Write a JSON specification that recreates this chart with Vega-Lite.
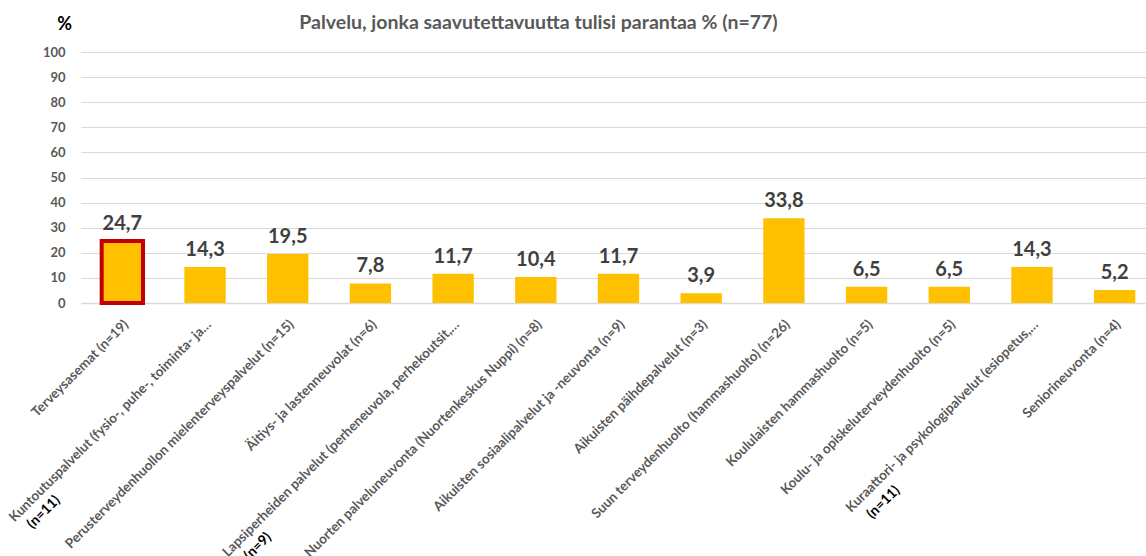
{
  "$schema": "https://vega.github.io/schema/vega-lite/v6.json",
  "width": 1065,
  "height": 251,
  "autosize": "none",
  "padding": {"left": 81, "top": 52, "right": 0, "bottom": 253},
  "background": "white",
  "title": {
    "text": "Palvelu, jonka saavutettavuutta tulisi parantaa % (n=77)",
    "anchor": "middle",
    "dx": -75,
    "dy": 22,
    "font": "Lato",
    "fontSize": 19.5,
    "fontWeight": "bold",
    "color": "#595959"
  },
  "datasets": {
    "palvelut": [
      {"palvelu": "Terveysasemat (n=19)", "osuus": 24.7},
      {"palvelu": "Kuntoutuspalvelut (fysio-, puhe-, toiminta- ja…", "osuus": 14.3},
      {"palvelu": "Perusterveydenhuollon mielenterveyspalvelut (n=15)", "osuus": 19.5},
      {"palvelu": "Äitiys- ja lastenneuvolat (n=6)", "osuus": 7.8},
      {"palvelu": "Lapsiperheiden palvelut (perheneuvola, perhekoutsit,…", "osuus": 11.7},
      {"palvelu": "Nuorten palveluneuvonta (Nuortenkeskus Nuppi) (n=8)", "osuus": 10.4},
      {"palvelu": "Aikuisten sosiaalipalvelut ja -neuvonta (n=9)", "osuus": 11.7},
      {"palvelu": "Aikuisten päihdepalvelut (n=3)", "osuus": 3.9},
      {"palvelu": "Suun terveydenhuolto (hammashuolto) (n=26)", "osuus": 33.8},
      {"palvelu": "Koululaisten hammashuolto (n=5)", "osuus": 6.5},
      {"palvelu": "Koulu- ja opiskeluterveydenhuolto (n=5)", "osuus": 6.5},
      {"palvelu": "Kuraattori- ja psykologipalvelut (esiopetus,…", "osuus": 14.3},
      {"palvelu": "Seniorineuvonta (n=4)", "osuus": 5.2}
    ],
    "vastaajat": [
      {"palvelu": "Kuntoutuspalvelut (fysio-, puhe-, toiminta- ja…", "n": "(n=11)"},
      {"palvelu": "Lapsiperheiden palvelut (perheneuvola, perhekoutsit,…", "n": "(n=9)"},
      {"palvelu": "Kuraattori- ja psykologipalvelut (esiopetus,…", "n": "(n=11)"}
    ]
  },
  "data": {"name": "palvelut"},
  "encoding": {
    "x": {
      "field": "palvelu",
      "type": "nominal",
      "sort": null,
      "scale": {"range": [0, 1075], "paddingInner": 0.5, "paddingOuter": 0.25},
      "axis": {
        "title": null,
        "labelAngle": -45,
        "labelAlign": "right",
        "labelBaseline": "middle",
        "labelPadding": 19,
        "labelOffset": 4,
        "labelLimit": 400,
        "labelFont": "Lato",
        "labelFontSize": 13.5,
        "labelFontWeight": "bold",
        "labelColor": "#595959",
        "ticks": false,
        "domainColor": "#d9d9d9",
        "domainWidth": 1.5
      }
    }
  },
  "layer": [
    {
      "mark": {"type": "bar", "color": "#ffc000"},
      "encoding": {
        "y": {
          "field": "osuus",
          "type": "quantitative",
          "title": "%",
          "scale": {"domain": [0, 100]},
          "axis": {"values": [0, 10, 20, 30, 40, 50, 60, 70, 80, 90, 100]}
        },
        "stroke": {
          "condition": {"test": "datum.palvelu === 'Terveysasemat (n=19)'", "value": "#c00000"},
          "value": null
        },
        "strokeWidth": {
          "condition": {"test": "datum.palvelu === 'Terveysasemat (n=19)'", "value": 4},
          "value": 0
        }
      }
    },
    {
      "mark": {
        "type": "text",
        "baseline": "alphabetic",
        "dy": -11,
        "font": "Lato",
        "fontSize": 20,
        "fontWeight": "bold",
        "color": "#404040"
      },
      "encoding": {
        "y": {
          "field": "osuus",
          "type": "quantitative",
          "title": "%",
          "axis": {"values": [0, 10, 20, 30, 40, 50, 60, 70, 80, 90, 100]}
        },
        "text": {"field": "osuus", "type": "quantitative", "format": ".1f"}
      }
    },
    {
      "data": {"name": "vastaajat"},
      "transform": [{"filter": "datum.palvelu === 'Kuntoutuspalvelut (fysio-, puhe-, toiminta- ja…'"}],
      "mark": {"type": "text", "angle": -45, "align": "left", "baseline": "alphabetic", "dx": -282, "dy": 38, "font": "Lato", "fontSize": 14, "fontWeight": "bold", "color": "#000000"},
      "encoding": {
        "y": {"datum": 0, "type": "quantitative", "title": "%", "axis": {"values": [0, 10, 20, 30, 40, 50, 60, 70, 80, 90, 100]}},
        "text": {"field": "n"}
      }
    },
    {
      "data": {"name": "vastaajat"},
      "transform": [{"filter": "datum.palvelu === 'Lapsiperheiden palvelut (perheneuvola, perhekoutsit,…'"}],
      "mark": {"type": "text", "angle": -45, "align": "left", "baseline": "alphabetic", "dx": -326, "dy": 38, "font": "Lato", "fontSize": 14, "fontWeight": "bold", "color": "#000000"},
      "encoding": {
        "y": {"datum": 0, "type": "quantitative", "title": "%", "axis": {"values": [0, 10, 20, 30, 40, 50, 60, 70, 80, 90, 100]}},
        "text": {"field": "n"}
      }
    },
    {
      "data": {"name": "vastaajat"},
      "transform": [{"filter": "datum.palvelu === 'Kuraattori- ja psykologipalvelut (esiopetus,…'"}],
      "mark": {"type": "text", "angle": -45, "align": "left", "baseline": "alphabetic", "dx": -266, "dy": 40, "font": "Lato", "fontSize": 14, "fontWeight": "bold", "color": "#000000"},
      "encoding": {
        "y": {"datum": 0, "type": "quantitative", "title": "%", "axis": {"values": [0, 10, 20, 30, 40, 50, 60, 70, 80, 90, 100]}},
        "text": {"field": "n"}
      }
    }
  ],
  "config": {
    "locale": {
      "number": {"decimal": ",", "thousands": " ", "grouping": [3], "currency": ["", " €"]}
    },
    "view": {"stroke": null},
    "axisY": {
      "labelOverlap": false,
      "labelFont": "Lato",
      "labelFontSize": 13,
      "labelFontWeight": "bold",
      "labelColor": "#595959",
      "labelPadding": 16,
      "ticks": false,
      "domain": false,
      "gridColor": "#d9d9d9",
      "gridWidth": 1.2,
      "titleAngle": 0,
      "titleX": -17,
      "titleY": -23,
      "titleAlign": "center",
      "titleBaseline": "alphabetic",
      "titleFont": "Lato",
      "titleFontSize": 18,
      "titleFontWeight": "bold",
      "titleColor": "#000000"
    }
  }
}
